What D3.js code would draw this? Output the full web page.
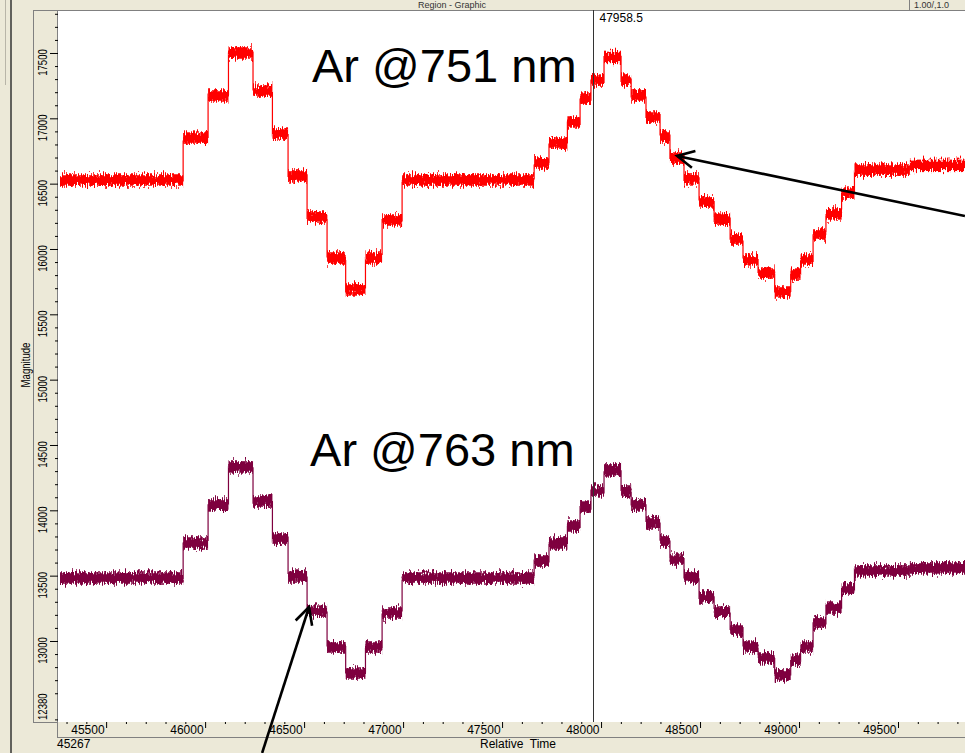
<!DOCTYPE html>
<html>
<head>
<meta charset="UTF-8">
<title>Ar 751 / 763 nm</title>
<script src="https://cdnjs.cloudflare.com/ajax/libs/d3/7.9.0/d3.min.js"></script>
<style>
    body { margin: 0; background: #ece9d8; }
    svg { display: block; }
</style>
</head>
<body>
<div id="chart"></div>
<script>
// step boundaries on the Relative Time axis (shared by both traces)
const stepEdges = [45267, 45889, 46015, 46118, 46242, 46340, 46419, 46515, 46616, 46710, 46810, 46894, 46995,
    47662, 47737, 47830, 47894, 47949, 48015, 48101, 48152, 48227, 48298, 48348, 48419, 48495, 48571,
    48652, 48717, 48793, 48877, 48958, 49008, 49071, 49136, 49215, 49280, 49560, 49850];

// magnitude of each step
const ar751 = [16528, 16849, 17171, 17500, 17209, 16880, 16559, 16245, 15931, 15694, 15931, 16222, 16528,
    16658, 16811, 16972, 17155, 17293, 17466, 17293, 17171, 17010, 16857, 16696, 16536, 16360, 16229,
    16076, 15916, 15816, 15671, 15808, 15916, 16115, 16268, 16428, 16604, 16640];
const ar763 = [13482, 13750, 14041, 14332, 14071, 13780, 13497, 13229, 12954, 12755, 12954, 13214, 13482,
    13612, 13750, 13880, 14025, 14148, 14309, 14148, 14041, 13903, 13765, 13627, 13490, 13337, 13222,
    13084, 12954, 12870, 12740, 12854, 12954, 13138, 13252, 13398, 13536, 13559];

const noiseAmp = 44;           // half width of the noise band (magnitude units)
const xDomain = [45267, 49850];
const yDomain = [12380, 17829];
const xMajor = d3.range(45500, 49501, 500);
const yMajor = d3.range(13000, 17501, 500);
const cursorTime = 47958.5;

// annotations (data coords)
const labels = [
    {text: "Ar @751 nm", t: 46540, v: 17280},
    {text: "Ar @763 nm", t: 46530, v: 14340}
];
const arrows = [
    {from: [49838, 16252], to: [48384, 16712]},
    {from: [46288, 12143], to: [46525, 13260]}
];

// layout
const W = 965, H = 753;
const plot = {left: 58, top: 10, right: 965, bottom: 722};

const svg = d3.select("#chart").append("svg")
    .attr("width", W)
    .attr("height", H)
    .style("font-family", "'Liberation Sans', Arial, sans-serif");

svg.append("rect").attr("width", W).attr("height", H).attr("fill", "#ece9d8");

// window chrome
svg.append("line").attr("x1", 5.5).attr("x2", 5.5).attr("y1", 0).attr("y2", 85).attr("stroke", "#b8b5a8");
svg.append("line").attr("x1", 11).attr("x2", 11).attr("y1", 0).attr("y2", H).attr("stroke", "#333").attr("stroke-width", 1.5);
svg.append("text").attr("x", 418).attr("y", 8).attr("font-size", 9).attr("fill", "#333").text("Region - Graphic");
svg.append("line").attr("x1", 909.5).attr("x2", 909.5).attr("y1", 0).attr("y2", 10).attr("stroke", "#808080");
svg.append("text").attr("x", 914).attr("y", 8).attr("font-size", 9).attr("fill", "#333").text("1.00/,1.0");

// plot frame
svg.append("rect")
    .attr("x", plot.left).attr("y", plot.top)
    .attr("width", plot.right - plot.left).attr("height", plot.bottom - plot.top)
    .attr("fill", "#fff");
svg.append("line").attr("x1", 33).attr("x2", W).attr("y1", 10.5).attr("y2", 10.5).attr("stroke", "#808080");
svg.append("line").attr("x1", 33.5).attr("x2", 33.5).attr("y1", 10).attr("y2", 722).attr("stroke", "#808080");
svg.append("line").attr("x1", 33).attr("x2", plot.left).attr("y1", 722.5).attr("y2", 722.5).attr("stroke", "#808080");
svg.append("line").attr("x1", plot.left).attr("x2", W).attr("y1", 737.5).attr("y2", 737.5).attr("stroke", "#808080");
svg.append("line").attr("x1", plot.left - 0.5).attr("x2", plot.left - 0.5).attr("y1", 10).attr("y2", 738).attr("stroke", "#808080");

// scales
const x = d3.scaleLinear().domain(xDomain).range([60, 967.3]);
const y = d3.scaleLinear().domain(yDomain).range([722, 10]);

// noise texture for the traces
const defs = svg.append("defs");
defs.append("clipPath").attr("id", "clip")
    .append("rect")
    .attr("x", plot.left).attr("y", plot.top)
    .attr("width", plot.right - plot.left).attr("height", plot.bottom - plot.top);
const filt = defs.append("filter").attr("id", "jag")
    .attr("filterUnits", "userSpaceOnUse")
    .attr("x", 0).attr("y", 0).attr("width", W).attr("height", H)
    .attr("color-interpolation-filters", "sRGB");
filt.append("feTurbulence").attr("type", "fractalNoise")
    .attr("baseFrequency", "0.9 0.15").attr("numOctaves", 2).attr("seed", 4).attr("result", "n");
filt.append("feColorMatrix").attr("in", "n").attr("type", "matrix")
    .attr("values", "0 0 0 0 0.5  0 1 0 0 0  0 0 1 0 0  0 0 0 0 1").attr("result", "m");
filt.append("feDisplacementMap").attr("in", "SourceGraphic").attr("in2", "m")
    .attr("scale", 13).attr("xChannelSelector", "R").attr("yChannelSelector", "G");

// traces
function segments(levels) {
    return levels.map((v, i) => ({t0: stepEdges[i], t1: stepEdges[i + 1], v: v}));
}
const line = d3.line().x(d => x(d[0])).y(d => y(d[1]));

function drawTrace(levels, color) {
    const segs = segments(levels);
    const g = svg.append("g").attr("clip-path", "url(#clip)")
        .append("g").attr("filter", "url(#jag)");
    g.selectAll("rect")
        .data(segs)
        .join("rect")
        .attr("x", d => x(d.t0))
        .attr("width", d => x(d.t1) - x(d.t0))
        .attr("y", d => y(d.v + noiseAmp))
        .attr("height", d => y(d.v - noiseAmp) - y(d.v + noiseAmp))
        .attr("fill", color);
    const pts = segs.flatMap(d => [[d.t0, d.v], [d.t1, d.v]]);
    g.append("path")
        .attr("d", line(pts))
        .attr("fill", "none")
        .attr("stroke", color)
        .attr("stroke-width", 1.2);
}
drawTrace(ar751, "#ff0000");
drawTrace(ar763, "#7f003f");

// x axis
const xAxisG = svg.append("g").attr("transform", `translate(0,${plot.bottom})`);
xAxisG.append("g")
    .call(d3.axisBottom(x).tickValues(d3.range(45300, 49850, 100).filter(d => d % 500 !== 0)).tickSize(2).tickFormat(""))
    .call(g => g.select(".domain").remove());
xAxisG.append("g")
    .call(d3.axisBottom(x).tickValues(xMajor).tickSize(6).tickFormat(d3.format("d")))
    .call(g => g.select(".domain").remove())
    .call(g => g.selectAll("text")
        .attr("text-anchor", "end").attr("x", -2).attr("y", 3).attr("dy", "0.71em")
        .attr("font-size", 12).attr("font-family", null).attr("fill", "#000"));
xAxisG.selectAll("line").attr("stroke", "#000");

svg.append("text").attr("x", 57).attr("y", 748).attr("font-size", 12).text(xDomain[0]);
svg.append("text").attr("x", 480).attr("y", 748).attr("font-size", 12).attr("xml:space", "preserve").text("Relative  Time");

// y axis
const yAxisG = svg.append("g").attr("transform", `translate(${plot.left},0)`);
yAxisG.append("g")
    .call(d3.axisLeft(y).tickValues(d3.range(12400, 17829, 100).filter(d => d % 500 !== 0)).tickSize(3).tickFormat(""))
    .call(g => g.select(".domain").remove());
yAxisG.append("g")
    .call(d3.axisLeft(y).tickValues(yMajor).tickSize(8).tickFormat(d3.format("d")))
    .call(g => g.select(".domain").remove())
    .call(g => g.selectAll("text")
        .attr("x", 0).attr("dy", 0).attr("text-anchor", "middle")
        .attr("transform", "translate(-11,9) rotate(-90) scale(0.8,1)")
        .attr("font-size", 12).attr("font-family", null).attr("fill", "#000"));
yAxisG.selectAll("line").attr("stroke", "#000");
yAxisG.append("text")
    .attr("transform", `translate(-11,${y(yDomain[0]) - 2}) rotate(-90) scale(0.8,1)`)
    .attr("font-size", 12).attr("text-anchor", "start").text(yDomain[0]);

svg.append("text")
    .attr("transform", "translate(30,365) rotate(-90) scale(0.8,1)")
    .attr("text-anchor", "middle").attr("font-size", 12).text("Magnitude");

// cursor
const cx = Math.round(x(cursorTime)) + 0.5;
svg.append("line").attr("x1", cx).attr("x2", cx).attr("y1", plot.top).attr("y2", plot.bottom)
    .attr("stroke", "#333");
svg.append("text").attr("x", cx + 6).attr("y", 22).attr("font-size", 12).text(cursorTime);

// annotations
svg.selectAll(".lbl")
    .data(labels)
    .join("text")
    .attr("class", "lbl")
    .attr("x", d => x(d.t)).attr("y", d => y(d.v))
    .attr("font-size", 47).attr("fill", "#000")
    .text(d => d.text);

const headLen = 19, headAng = 27 * Math.PI / 180;
arrows.forEach(a => {
    const x1 = x(a.from[0]), y1 = y(a.from[1]), x2 = x(a.to[0]), y2 = y(a.to[1]);
    const ang = Math.atan2(y1 - y2, x1 - x2);
    const g = svg.append("g").attr("stroke", "#000").attr("stroke-width", 2.6).attr("fill", "none");
    g.append("line").attr("x1", x1).attr("y1", y1).attr("x2", x2).attr("y2", y2);
    g.append("path").attr("d", d3.line()([
        [x2 + headLen * Math.cos(ang + headAng), y2 + headLen * Math.sin(ang + headAng)],
        [x2, y2],
        [x2 + headLen * Math.cos(ang - headAng), y2 + headLen * Math.sin(ang - headAng)]
    ]));
});
</script>
</body>
</html>
